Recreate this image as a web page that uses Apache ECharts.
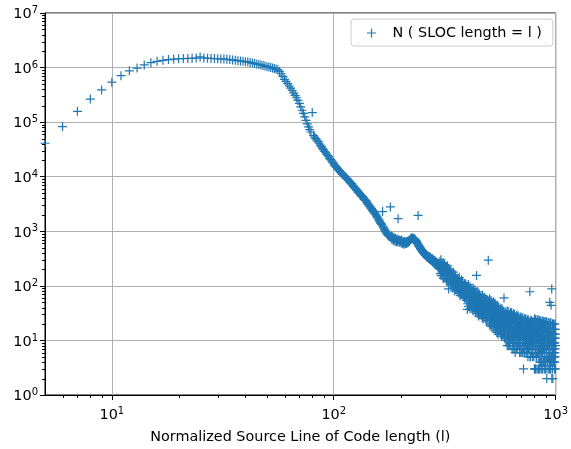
<!DOCTYPE html>
<html>
<head>
<meta charset="utf-8">
<script src="https://cdn.jsdelivr.net/npm/echarts@6/dist/echarts.min.js"></script>
<style>
html, body { margin: 0; padding: 0; background: #fff; }
#chart { width: 571px; height: 449px; }
</style>
</head>
<body>
<div id="chart"></div>
<script>
// ---- data: N(SLOC length = l), one value per integer length l ----
const seriesName = 'N ( SLOC length = l )';
const xAxisTitle = 'Normalized Source Line of Code length (l)';

const headStart = 5;   // l = 5 .. 99
const countsHead = [
  41000, 83000, 158000, 265000, 390000, 540000, 710000, 870000, 980000, 1120000,
  1230000, 1300000, 1360000, 1400000, 1430000, 1450000, 1460000, 1470000, 1480000, 1490000,
  1570000, 1500000, 1480000, 1470000, 1460000, 1450000, 1440000, 1430000, 1420000, 1400000,
  1380000, 1360000, 1340000, 1320000, 1300000, 1280000, 1260000, 1240000, 1210000, 1190000,
  1160000, 1140000, 1120000, 1090000, 1070000, 1040000, 1020000, 1000000, 980000, 960000,
  940000, 910000, 850000, 770000, 690000, 610000, 560000, 510000, 460000, 420000,
  380000, 345000, 310000, 280000, 250000, 220000, 190000, 165000, 145000, 125000,
  108000, 93000, 82000, 73000, 66000, 150000, 57000, 53000, 50000, 47000,
  44000, 41000, 38000, 35500, 33000, 31000, 29000, 27500, 26000, 24500,
  23000, 21500, 20500, 19500, 18300
];

const midStart = 100;  // l = 100 .. 299
const countsMid = [
  17200, 16000, 15600, 14800, 14200, 13400, 12900, 12200, 11800, 11200,
  11000, 10600, 10100, 9900, 9300, 9100, 8700, 8500, 8000, 7800,
  7500, 7300, 6800, 6700, 6300, 6200, 5900, 5600, 5500, 5200,
  5000, 4900, 4700, 4500, 4400, 4300, 4100, 3900, 3800, 3700,
  3600, 3400, 3300, 3100, 3000, 2900, 2800, 2650, 2600, 2500,
  2400, 2300, 2250, 2150, 2050, 2000, 1900, 1820, 1750, 1680,
  1600, 1540, 1450, 1400, 1350, 1300, 2300, 1200, 1150, 1100,
  1050, 1000, 960, 930, 900, 880, 850, 830, 810, 800,
  2800, 760, 820, 700, 790, 740, 680, 770, 720, 650,
  740, 690, 640, 720, 660, 1700, 700, 620, 680, 650,
  670, 610, 690, 640, 600, 660, 620, 580, 650, 610,
  630, 590, 650, 600, 640, 620, 660, 630, 680, 650,
  690, 700, 720, 740, 730, 760, 740, 750, 730, 720,
  740, 700, 720, 680, 690, 650, 660, 620, 600, 590,
  1950, 560, 540, 530, 510, 500, 480, 470, 460, 450,
  440, 430, 420, 410, 400, 395, 385, 380, 370, 365,
  380, 350, 365, 335, 360, 330, 345, 320, 350, 315,
  340, 305, 330, 300, 325, 295, 315, 290, 310, 280,
  310, 270, 295, 265, 290, 255, 285, 250, 275, 240,
  270, 235, 265, 230, 260, 225, 255, 215, 250, 210
];

const tail1Start = 300; // l = 300 .. 599
const countsTail1 = [
  224, 279, 167, 242, 301, 154, 209, 260, 180, 194,
  172, 267, 137, 230, 199, 160, 248, 148, 215, 185,
  187, 129, 216, 162, 119, 233, 150, 173, 201, 88,
  121, 175, 151, 203, 130, 163, 104, 188, 141, 112,
  165, 124, 107, 91, 153, 114, 178, 143, 99, 133,
  81, 128, 159, 102, 147, 88, 118, 95, 110, 137,
  123, 85, 99, 132, 79, 106, 114, 73, 142, 92,
  89, 66, 111, 77, 103, 119, 71, 129, 83, 96,
  116, 75, 94, 65, 81, 100, 70, 87, 60, 108,
  59, 79, 68, 105, 63, 73, 98, 54, 91, 85,
  37, 97, 47, 79, 106, 42, 64, 88, 53, 58,
  53, 97, 38, 80, 65, 48, 88, 43, 72, 59,
  67, 40, 81, 54, 35, 90, 49, 60, 74, 44,
  41, 69, 56, 84, 46, 62, 33, 76, 51, 37,
  155, 47, 38, 31, 64, 42, 78, 58, 34, 52,
  28, 53, 71, 39, 65, 31, 48, 35, 43, 59,
  55, 33, 40, 61, 29, 45, 50, 26, 67, 37,
  38, 25, 51, 31, 46, 57, 27, 62, 34, 42,
  59, 32, 44, 26, 36, 49, 29, 40, 23, 54,
  23, 37, 30, 55, 27, 33, 50, 295, 45, 41,
  36, 52, 21, 40, 58, 19, 32, 46, 24, 28,
  26, 54, 18, 43, 34, 23, 49, 20, 38, 30,
  36, 19, 46, 28, 17, 51, 25, 32, 41, 22,
  20, 38, 29, 48, 23, 33, 15, 43, 26, 18,
  40, 24, 19, 14, 35, 21, 44, 31, 16, 27,
  13, 29, 41, 20, 36, 15, 25, 17, 22, 32,
  31, 17, 21, 35, 14, 24, 27, 13, 39, 19,
  20, 12, 28, 15, 25, 32, 13, 36, 17, 22,
  34, 16, 24, 13, 19, 60, 14, 21, 11, 30,
  12, 20, 16, 32, 14, 18, 29, 10, 26, 23
];

const tail2Start = 600; // l = 600 .. 1000
const countsTail2 = [
  19, 30, 10, 22, 35, 8, 16, 26, 12, 14,
  14, 34, 8, 25, 18, 12, 29, 10, 21, 16,
  21, 9, 28, 15, 8, 33, 13, 18, 24, 11,
  11, 23, 17, 32, 13, 20, 7, 27, 15, 9,
  26, 14, 11, 7, 23, 12, 31, 20, 9, 17,
  7, 19, 30, 12, 26, 9, 16, 6, 14, 22,
  21, 10, 14, 25, 8, 16, 18, 7, 29, 12,
  13, 7, 21, 10, 18, 24, 8, 28, 11, 15,
  27, 11, 17, 8, 13, 20, 9, 15, 6, 23,
  8, 14, 11, 27, 9, 12, 23, 6, 20, 17,
  14, 22, 7, 16, 26, 6, 12, 19, 9, 11,
  10, 26, 6, 19, 14, 9, 3, 7, 16, 12,
  16, 7, 21, 12, 6, 25, 10, 14, 18, 9,
  8, 18, 13, 25, 10, 15, 6, 21, 11, 7,
  20, 11, 8, 6, 18, 10, 24, 15, 7, 13,
  5, 15, 24, 10, 20, 7, 13, 8, 11, 17,
  17, 8, 11, 20, 7, 78, 15, 5, 23, 9,
  11, 5, 17, 8, 14, 19, 6, 23, 9, 12,
  23, 9, 14, 6, 10, 16, 8, 12, 5, 19,
  6, 12, 9, 22, 8, 10, 19, 5, 16, 14,
  11, 20, 3, 13, 25, 3, 9, 16, 6, 8,
  7, 24, 3, 16, 11, 6, 19, 5, 13, 9,
  13, 5, 19, 9, 3, 24, 7, 11, 16, 6,
  6, 16, 11, 24, 7, 13, 3, 19, 9, 5,
  19, 9, 6, 3, 15, 7, 23, 13, 4, 11,
  3, 13, 23, 7, 18, 4, 10, 6, 9, 15,
  15, 6, 9, 18, 4, 10, 12, 3, 23, 7,
  8, 3, 15, 6, 12, 18, 4, 22, 7, 10,
  22, 7, 12, 4, 8, 15, 6, 10, 3, 18,
  4, 10, 7, 22, 6, 8, 18, 3, 15, 12,
  10, 17, 4, 12, 22, 3, 8, 14, 5, 7,
  7, 22, 2, 14, 10, 5, 17, 4, 12, 8,
  12, 4, 17, 8, 3, 21, 7, 10, 14, 5,
  5, 14, 10, 21, 7, 12, 3, 17, 8, 4,
  50, 8, 5, 3, 14, 6, 21, 11, 4, 10,
  3, 11, 21, 6, 44, 4, 9, 5, 8, 14,
  88, 2, 8, 16, 4, 9, 11, 3, 20, 6,
  8, 2, 13, 5, 11, 16, 4, 20, 6, 9,
  20, 6, 11, 4, 7, 13, 5, 9, 3, 16,
  4, 9, 6, 20, 5, 7, 16, 3, 13, 11,
  8
];

// axis ranges and tick definitions
const xMin = 5, xMax = 1000;
const yMin = 1, yMax = 1e7;
const minorMultipliers = [2, 3, 4, 5, 6, 7, 8, 9];
const xDecades = [1, 10, 100];
const yDecades = [1, 10, 100, 1000, 10000, 100000, 1000000];

// ---- build ----
const segments = [
  [headStart, countsHead], [midStart, countsMid],
  [tail1Start, countsTail1], [tail2Start, countsTail2]
];
const points = [];
segments.forEach(([start, arr]) => arr.forEach((v, i) => points.push([start + i, v])));

const xMinor = [];
xDecades.forEach(d => minorMultipliers.forEach(m => { const v = d * m; if (v > xMin && v < xMax) xMinor.push([v, yMin]); }));
const yMinor = [];
yDecades.forEach(d => minorMultipliers.forEach(m => { const v = d * m; if (v > yMin && v < yMax) yMinor.push([xMin, v]); }));

const FONT = 'DejaVu Sans';
const FS = 14.4;
const C0 = '#1f77b4';
const plusPath = 'path://M3.9,0H5.1V3.9H9V5.1H5.1V9H3.9V5.1H0V3.9H3.9Z';

function powLabel(value) {
  const e = Math.round(Math.log10(value));
  if (Math.abs(value - Math.pow(10, e)) > 1e-6 * value) return '';
  return '{b|10}{s|' + e + '}';
}
const richPow = {
  b: { fontSize: FS, fontFamily: FONT, color: '#000', padding: [3, 0, 0, 0] },
  s: { fontSize: 10, fontFamily: FONT, color: '#000', padding: [0, 0, 5, 0] }
};

const chart = echarts.init(document.getElementById('chart'), null, { renderer: 'canvas' });
chart.setOption({
  animation: false,
  backgroundColor: '#fff',
  grid: { left: 45, right: 12, top: 13, bottom: 52.5, show: true, borderColor: '#000', borderWidth: 1, backgroundColor: 'transparent', containLabel: false },
  legend: {
    data: [{ name: seriesName, icon: plusPath }],
    left: 351, top: 19,
    padding: [7, 11, 6, 16],
    itemWidth: 32, itemHeight: 9,
    borderColor: '#cccccc', borderWidth: 1, borderRadius: 3,
    backgroundColor: 'rgba(255,255,255,0.8)',
    textStyle: { fontFamily: FONT, fontSize: FS, color: '#000' }
  },
  xAxis: {
    type: 'log', logBase: 10, min: xMin, max: xMax,
    name: xAxisTitle, nameLocation: 'middle', nameGap: 35,
    nameTextStyle: { fontFamily: FONT, fontSize: FS, color: '#000' },
    axisLine: { show: true, lineStyle: { color: '#000', width: 1 } },
    axisTick: { show: true, inside: false, length: 5, lineStyle: { color: '#000', width: 1 } },
    axisLabel: { formatter: powLabel, rich: richPow, margin: 10, showMinLabel: false },
    splitLine: { show: true, lineStyle: { color: '#b0b0b0', width: 1 } },
    minorTick: { show: false }
  },
  yAxis: {
    type: 'log', logBase: 10, min: yMin, max: yMax,
    axisLine: { show: true, lineStyle: { color: '#000', width: 1 } },
    axisTick: { show: true, inside: false, length: 5, lineStyle: { color: '#000', width: 1 } },
    axisLabel: { formatter: powLabel, rich: richPow, margin: 7 },
    splitLine: { show: true, lineStyle: { color: '#b0b0b0', width: 1 } }
  },
  series: [
    {
      name: seriesName, type: 'scatter', data: points,
      symbol: plusPath, symbolSize: 9,
      itemStyle: { color: C0, opacity: 1 },
      emphasis: { disabled: true }, silent: true, z: 3
    },
    {
      type: 'custom', data: xMinor, clip: false, silent: true, z: 4,
      renderItem: function (params, api) {
        const p = api.coord([api.value(0), api.value(1)]);
        const x = Math.round(p[0]) + 0.5;
        return { type: 'line', shape: { x1: x, y1: p[1], x2: x, y2: p[1] + 3 }, style: { stroke: '#000', lineWidth: 1 } };
      }
    },
    {
      type: 'custom', data: yMinor, clip: false, silent: true, z: 4,
      renderItem: function (params, api) {
        const p = api.coord([api.value(0), api.value(1)]);
        const y = Math.round(p[1]) + 0.5;
        return { type: 'line', shape: { x1: p[0], y1: y, x2: p[0] - 3, y2: y }, style: { stroke: '#000', lineWidth: 1 } };
      }
    }
  ]
});
</script>
</body>
</html>
